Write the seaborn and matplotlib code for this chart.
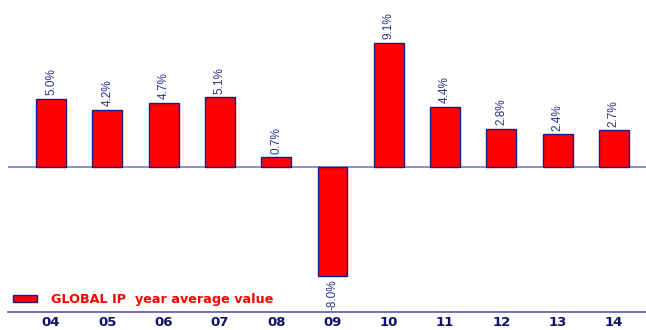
import matplotlib
matplotlib.use("Agg")
import matplotlib.pyplot as plt
import seaborn as sns
import pandas as pd
import numpy as np
from matplotlib.patches import Patch

years = ["04", "05", "06", "07", "08", "09", "10", "11", "12", "13", "14"]
growth = [5.0, 4.2, 4.7, 5.1, 0.7, -8.0, 9.1, 4.4, 2.8, 2.4, 2.7]
labels = ["5.0%", "4.2%", "4.7%", "5.1%", "0.7%", "-8.0%", "9.1%", "4.4%", "2.8%", "2.4%", "2.7%"]
legend_label = "GLOBAL IP  year average value"

navy = "#1c1c80"
df = pd.DataFrame({"year": years, "growth": growth})

sns.set_style("white")
plt.rcParams["font.family"] = ["Liberation Sans", "DejaVu Sans"]

fig = plt.figure(figsize=(6.46, 3.30), dpi=100)
ax = fig.add_axes([8 / 646, 18 / 330, 638 / 646, 312 / 330])

sns.barplot(data=df, x="year", y="growth", color="#ff0000", saturation=1,
            width=0.53, edgecolor=navy, linewidth=1.0, ax=ax, zorder=3)

ax.set_xlim(-0.764, 10.57)
ax.set_ylim(-10.62, 12.23)

# zero line
ax.axhline(0, color="#7a7ac0", lw=1.2, zorder=2)

# value labels, rotated
for i, (v, lab) in enumerate(zip(growth, labels)):
    if v >= 0:
        ax.text(i, v + 0.25, lab, rotation=90, ha="center", va="bottom",
                fontsize=8.5, color="#303090", zorder=4)
    else:
        ax.text(i, v - 0.25, lab, rotation=90, ha="center", va="top",
                fontsize=8.5, color="#303090", zorder=4)

# spines
for s in ["top", "right", "left"]:
    ax.spines[s].set_visible(False)
ax.spines["bottom"].set_color("#5a5aa8")
ax.spines["bottom"].set_linewidth(1.2)

ax.set_yticks([])
ax.set_xlabel("")
ax.set_ylabel("")
ax.set_xticks(range(len(years)))
ax.set_xticklabels(years, fontsize=9.5, fontweight="bold", color="#10106a",
                   family="DejaVu Sans")
ax.tick_params(axis="x", which="major", length=0, pad=3)
ax.set_xticks(np.arange(-0.5, len(years) - 0.4, 1.0), minor=True)
ax.tick_params(axis="x", which="minor", length=3, width=1, color="#5a5aa8",
               direction="out")

# legend
leg = ax.legend(handles=[Patch(facecolor="#ff0000", edgecolor=navy, linewidth=1)],
                labels=[legend_label], loc="lower left",
                bbox_to_anchor=(0.0, 0.003), frameon=False,
                handlelength=1.9, handleheight=0.5, handletextpad=1.1,
                prop={"size": 9.2, "weight": "bold", "family": "DejaVu Sans"},
                borderaxespad=0.0)
for t in leg.get_texts():
    t.set_color("#ff0000")

fig.savefig("out.png", dpi=100)
